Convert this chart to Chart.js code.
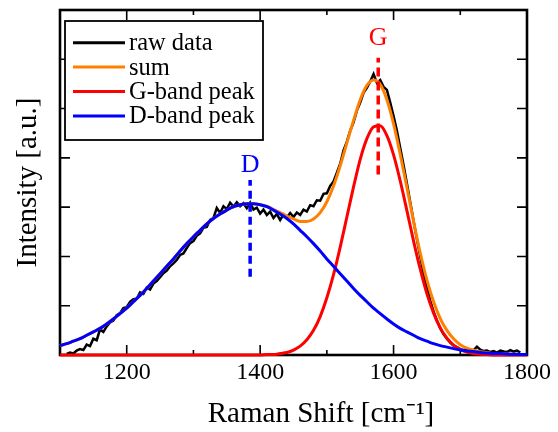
<!DOCTYPE html>
<html>
<head>
<meta charset="utf-8">
<script src="https://cdn.jsdelivr.net/npm/chart.js@4"></script>
<style>
html,body{margin:0;padding:0;background:#fff;}
#wrap{width:558px;height:432px;}
</style>
</head>
<body>
<div id="wrap"><canvas id="c" width="558" height="432"></canvas></div>
<script>
// ---- data ----
const rawX = [1110,1115,1120,1125,1130,1135,1140,1145,1150,1155,
1160,1165,1170,1175,1180,1185,1190,1195,1200,1205,
1210,1215,1220,1225,1230,1235,1240,1245,1250,1255,
1260,1265,1270,1275,1280,1285,1290,1295,1300,1305,
1310,1315,1320,1325,1330,1335,1340,1345,1350,1355,
1360,1365,1370,1375,1380,1385,1390,1395,1400,1405,
1410,1415,1420,1425,1430,1435,1440,1445,1450,1455,
1460,1465,1470,1475,1480,1485,1490,1495,1500,1505,
1510,1515,1520,1525,1530,1535,1540,1545,1550,1555,
1560,1565,1570,1575,1580,1585,1590,1595,1600,1605,
1610,1615,1620,1625,1630,1635,1640,1645,1650,1655,
1660,1665,1670,1675,1680,1685,1690,1695,1700,1705,
1710,1715,1720,1725,1730,1735,1740,1745,1750,1755,
1760,1765,1770,1775,1780,1785,1790];
const rawY = [0.02,0.05,0.03,0.09,0.12,0.10,0.21,0.18,0.33,0.30,
0.52,0.47,0.58,0.66,0.70,0.81,0.85,0.95,0.97,1.08,
1.13,1.14,1.27,1.24,1.37,1.33,1.45,1.50,1.58,1.66,
1.71,1.80,1.86,1.93,2.03,2.06,2.17,2.27,2.31,2.42,
2.47,2.58,2.60,2.74,2.78,2.98,2.88,3.02,2.96,3.09,
3.01,3.10,3.02,3.08,2.98,3.09,2.95,2.99,2.87,2.95,
2.84,2.91,2.78,2.86,2.74,2.85,2.79,2.88,2.80,2.89,
2.84,2.95,2.91,3.04,3.02,3.14,3.13,3.27,3.28,3.43,
3.52,3.70,3.88,4.15,4.33,4.55,4.72,4.96,5.12,5.32,
5.42,5.55,5.70,5.52,5.58,5.44,5.38,5.12,4.85,4.55,
4.20,3.85,3.48,3.10,2.72,2.35,2.00,1.66,1.36,1.10,
0.88,0.70,0.54,0.42,0.33,0.25,0.19,0.16,0.12,0.10,
0.13,0.08,0.10,0.17,0.11,0.08,0.09,0.06,0.08,0.05,
0.09,0.07,0.06,0.10,0.07,0.09,0.05];

const fitX = [1100,1110,1120,1130,1140,1150,1160,1170,1180,1190,
1200,1210,1220,1230,1240,1250,1260,1270,1280,1290,
1300,1310,1320,1330,1340,1350,1360,1370,1380,1390,
1400,1410,1420,1430,1440,1450,1460,1470,1480,1490,
1500,1510,1520,1530,1540,1550,1560,1570,1580,1590,
1600,1610,1620,1630,1640,1650,1660,1670,1680,1690,
1700,1710,1720,1730,1740,1750,1760,1770,1780,1790,1800];
const sumY = [0.19,0.23,0.28,0.33,0.40,0.47,0.54,0.63,0.73,0.84,
0.95,1.08,1.21,1.35,1.50,1.65,1.80,1.95,2.11,2.26,
2.40,2.53,2.66,2.77,2.86,2.94,3.01,3.05,3.07,3.07,
3.05,3.02,2.95,2.89,2.82,2.76,2.71,2.71,2.76,2.89,
3.11,3.43,3.84,4.30,4.76,5.18,5.47,5.58,5.49,5.18,
4.69,4.07,3.40,2.71,2.07,1.52,1.08,0.74,0.50,0.33,
0.21,0.14,0.10,0.065,0.05,0.03,0.03,0.02,0.015,0.01,0.01];
const gBandY = [0,0,0,0,0,0,0,0,0,0,
0,0,0,0,0,0,0,0,0,0,
0,0,0,0,0,0,0,0,0,0,
0.00,0.01,0.01,0.03,0.05,0.10,0.18,0.31,0.50,0.78,
1.16,1.63,2.19,2.80,3.41,3.97,4.39,4.63,4.65,4.45,
4.06,3.53,2.93,2.31,1.74,1.24,0.85,0.55,0.34,0.20,
0.11,0.06,0.03,0.015,0.01,0,0,0,0,0,0];
const dBandY = [0.19,0.23,0.28,0.33,0.40,0.47,0.54,0.63,0.73,0.84,
0.95,1.08,1.21,1.35,1.50,1.65,1.80,1.95,2.11,2.26,
2.40,2.53,2.66,2.77,2.86,2.94,3.01,3.05,3.07,3.07,
3.05,3.01,2.94,2.86,2.77,2.66,2.53,2.40,2.26,2.11,
1.95,1.80,1.65,1.50,1.35,1.21,1.08,0.95,0.84,0.73,
0.63,0.54,0.47,0.40,0.33,0.28,0.23,0.19,0.16,0.13,
0.10,0.08,0.07,0.05,0.04,0.03,0.03,0.02,0.015,0.01,0.01];

const seriesLabels = ['raw data','sum','G-band peak','D-band peak'];
const peakNames = ['D','G'];
const peakPosX = [1385, 1577];
const peakLineLow = [1.59, 3.66];
const peakLineHigh = [3.55, 6.03];
const peakLabelY = [3.72, 6.30];

const xTickLabels = [1200,1400,1600,1800];
const xMinorTicks = [1100,1300,1500,1700];
const yTicks = [0,1,2,3,4,5,6,7];
const xTitle = 'Raman Shift [cm\u207B\u00B9]';
const yTitle = 'Intensity [a.u.]';

// ---- build ----
const pts = (xs, ys) => xs.map((x, i) => ({x: x, y: ys[i]}));
const COL = {raw:'#000000', sum:'#ff8000', g:'#ff0000', d:'#0000ff'};
const SERIF = "'Liberation Serif','Times New Roman',serif";

const datasets = [
  {label: seriesLabels[0], data: pts(rawX, rawY), borderColor: COL.raw, borderWidth: 2.5, tension: 0, order: 6},
  {label: seriesLabels[1], data: pts(fitX, sumY), borderColor: COL.sum, borderWidth: 3, cubicInterpolationMode: 'monotone', order: 5},
  {label: seriesLabels[2], data: pts(fitX, gBandY), borderColor: COL.g, borderWidth: 3, cubicInterpolationMode: 'monotone', order: 4},
  {label: seriesLabels[3], data: pts(fitX, dBandY), borderColor: COL.d, borderWidth: 3, cubicInterpolationMode: 'monotone', order: 3},
  {label: peakNames[0], marker: true, data: [{x: peakPosX[0], y: peakLineLow[0]}, {x: peakPosX[0], y: peakLineHigh[0]}], borderColor: COL.d, borderWidth: 3.5, borderDash: [8, 5], order: 2},
  {label: peakNames[1], marker: true, data: [{x: peakPosX[1], y: peakLineLow[1]}, {x: peakPosX[1], y: peakLineHigh[1]}], borderColor: COL.g, borderWidth: 3.5, borderDash: [9, 5], order: 1}
];
datasets.forEach(d => { d.pointRadius = 0; d.fill = false; d.clip = 4; });

const framePlugin = {
  id: 'frame',
  beforeDatasetsDraw(chart) {
    const {ctx, chartArea: a, scales: {x, y}} = chart;
    ctx.save();
    ctx.strokeStyle = '#000';
    ctx.lineWidth = 1.6;
    ctx.beginPath();
    xTickLabels.forEach(v => {
      const p = x.getPixelForValue(v);
      ctx.moveTo(p, a.bottom); ctx.lineTo(p, a.bottom - 10);
      ctx.moveTo(p, a.top); ctx.lineTo(p, a.top + 10);
    });
    xMinorTicks.forEach(v => {
      const p = x.getPixelForValue(v);
      ctx.moveTo(p, a.bottom); ctx.lineTo(p, a.bottom - 5);
      ctx.moveTo(p, a.top); ctx.lineTo(p, a.top + 5);
    });
    yTicks.forEach(v => {
      const p = y.getPixelForValue(v);
      ctx.moveTo(a.left, p); ctx.lineTo(a.left + 10, p);
      ctx.moveTo(a.right, p); ctx.lineTo(a.right - 10, p);
    });
    ctx.stroke();
    ctx.lineWidth = 2.6;
    ctx.strokeRect(a.left, a.top, a.right - a.left, a.bottom - a.top);
    ctx.restore();
  },
  afterDatasetsDraw(chart) {
    const {ctx, scales: {x, y}} = chart;
    ctx.save();
    ctx.font = '26px ' + SERIF;
    ctx.textAlign = 'center';
    ctx.textBaseline = 'alphabetic';
    const cols = [COL.d, COL.g];
    peakNames.forEach((n, i) => {
      ctx.fillStyle = cols[i];
      ctx.fillText(n, x.getPixelForValue(peakPosX[i]), y.getPixelForValue(peakLabelY[i]));
    });
    // legend box
    const items = chart.data.datasets.filter(d => !d.marker);
    const bx = 65, by = 21, bw = 198, bh = 119;
    ctx.fillStyle = '#fff';
    ctx.fillRect(bx, by, bw, bh);
    ctx.lineWidth = 1.8;
    ctx.strokeStyle = '#000';
    ctx.strokeRect(bx, by, bw, bh);
    ctx.font = '24.5px ' + SERIF;
    ctx.textAlign = 'left';
    ctx.textBaseline = 'middle';
    items.forEach((d, i) => {
      const cy = 42.7 + i * 24.4;
      ctx.strokeStyle = d.borderColor;
      ctx.lineWidth = 3;
      ctx.beginPath();
      ctx.moveTo(73, cy); ctx.lineTo(125, cy);
      ctx.stroke();
      ctx.fillStyle = '#000';
      ctx.fillText(d.label, 129, cy + 1);
    });
    // x axis title (offset to the right as in the reference)
    ctx.font = '29px ' + SERIF;
    ctx.textAlign = 'center';
    ctx.textBaseline = 'alphabetic';
    ctx.fillText(xTitle, 321, 422);
    ctx.restore();
  }
};

new Chart(document.getElementById('c'), {
  type: 'line',
  data: {datasets: datasets},
  options: {
    responsive: false,
    animation: false,
    devicePixelRatio: 1,
    layout: {padding: {left: 0, right: 31, top: 10, bottom: 0}},
    plugins: {legend: {display: false}, tooltip: {enabled: false}},
    scales: {
      x: {
        type: 'linear', min: 1100, max: 1800,
        afterBuildTicks: s => { s.ticks = xTickLabels.map(v => ({value: v})); },
        afterFit: s => { s.height = 77; },
        grid: {display: false, drawTicks: false},
        border: {display: false},
        ticks: {color: '#000', padding: 3, maxRotation: 0, autoSkip: false, font: {family: SERIF, size: 24}, callback: v => String(v)},
        title: {display: false}
      },
      y: {
        type: 'linear', min: 0, max: 7,
        afterBuildTicks: s => { s.ticks = yTicks.map(v => ({value: v})); },
        afterFit: s => { s.width = 60; },
        grid: {display: false, drawTicks: false},
        border: {display: false},
        ticks: {display: false},
        title: {display: true, text: yTitle, color: '#000', font: {family: SERIF, size: 29}, padding: {top: 11, bottom: 0}}
      }
    }
  },
  plugins: [framePlugin]
});
</script>
</body>
</html>
